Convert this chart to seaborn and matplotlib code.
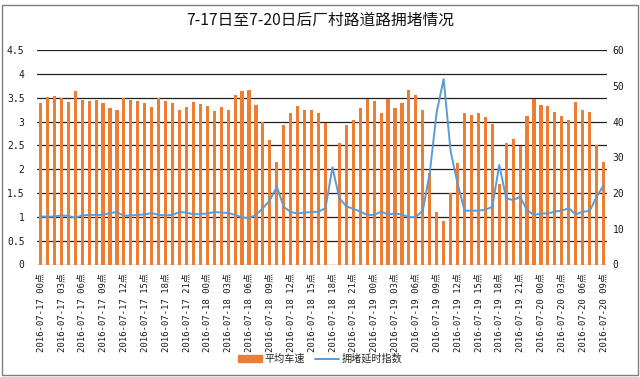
import numpy as np
import pandas as pd
import matplotlib
matplotlib.use("Agg")
import matplotlib.pyplot as plt
from matplotlib.patches import Rectangle, Patch
from matplotlib.lines import Line2D
import seaborn as sns

title = "7-17日至7-20日后厂村路道路拥堵情况"
speed_name = "平均车速"
index_name = "拥堵延时指数"

# hourly average speed (km/h, right axis), 2016-07-17 00点 .. 2016-07-20 09点
speed = [45.2, 46.8, 47.2, 46.7, 45.5, 48.5, 46.0, 45.7, 45.9, 45.2,
         43.9, 43.3, 46.7, 46.1, 45.6, 45.2, 44.0, 46.5, 45.6, 45.2,
         43.1, 44.1, 45.5, 44.9, 44.4, 42.8, 44.1, 43.1, 47.3, 48.4,
         48.7, 44.7, 39.9, 34.7, 28.7, 38.9, 42.4, 44.4, 43.3, 43.1,
         42.5, 39.7, np.nan, 34.0, 39.1, 40.5, 43.7, 46.4, 45.6, 42.5,
         46.4, 43.7, 45.2, 48.9, 47.5, 43.3, 25.6, 14.8, 12.1, 19.9,
         28.5, 42.3, 41.9, 42.4, 41.3, 39.2, 22.5, 34.0, 35.2, 33.2,
         41.5, 46.3, 44.7, 44.3, 42.7, 41.5, 40.3, 45.5, 43.3, 42.7,
         33.3, 28.8]

# hourly congestion delay index (left axis)
delay_index = [1.01, 1.00, 1.01, 1.03, 1.02, 0.98, 1.03, 1.04, 1.04, 1.04,
               1.08, 1.10, 1.02, 1.03, 1.04, 1.05, 1.08, 1.04, 1.03, 1.04,
               1.10, 1.09, 1.05, 1.06, 1.07, 1.10, 1.09, 1.08, 1.04, 0.99,
               0.97, 1.04, 1.18, 1.35, 1.63, 1.21, 1.10, 1.07, 1.09, 1.10,
               1.11, 1.18, 2.04, 1.39, 1.22, 1.17, 1.11, 1.04, 1.04, 1.11,
               1.05, 1.07, 1.05, 0.99, 1.00, 1.13, 1.92, 3.20, 3.89, 2.38,
               1.70, 1.13, 1.13, 1.13, 1.15, 1.21, 2.09, 1.39, 1.35, 1.42,
               1.14, 1.04, 1.07, 1.07, 1.11, 1.13, 1.18, 1.05, 1.11, 1.12,
               1.42, 1.66]

tick_labels = [
    "2016-07-17 00点", "2016-07-17 03点", "2016-07-17 06点", "2016-07-17 09点",
    "2016-07-17 12点", "2016-07-17 15点", "2016-07-17 18点", "2016-07-17 21点",
    "2016-07-18 00点", "2016-07-18 03点", "2016-07-18 06点", "2016-07-18 09点",
    "2016-07-18 12点", "2016-07-18 15点", "2016-07-18 18点", "2016-07-18 21点",
    "2016-07-19 00点", "2016-07-19 03点", "2016-07-19 06点", "2016-07-19 09点",
    "2016-07-19 12点", "2016-07-19 15点", "2016-07-19 18点", "2016-07-19 21点",
    "2016-07-20 00点", "2016-07-20 03点", "2016-07-20 06点", "2016-07-20 09点",
]

left_ticks = [0, 0.5, 1, 1.5, 2, 2.5, 3, 3.5, 4, 4.5]
right_ticks = [0, 10, 20, 30, 40, 50, 60]

sns.set_theme(style="white")
plt.rcParams['font.family'] = ['Noto Sans CJK SC', 'DejaVu Sans']
mono = ['DejaVu Sans Mono', 'Noto Sans CJK SC']

hours = np.arange(len(speed))
df = pd.DataFrame({"hour": hours, "speed": speed, "idx": delay_index})

fig = plt.figure(figsize=(6.4, 3.77), dpi=100)
ax = fig.add_axes([37/640, 1 - 264.5/377, (607 - 37)/640, (264.5 - 50)/377])

orange = "#ED7D31"
blue = "#5B9BD5"
txt = "#1a1a1a"

# gridlines follow the left (index) scale; bars use the right (speed) scale
scale = 60 / 4.5
for t in left_ticks:
    ax.axhline(t * scale, color="#202020", lw=0.9, zorder=0)

sns.barplot(data=df, x="hour", y="speed", color=orange, saturation=1,
            width=0.45, linewidth=0, ax=ax, zorder=2)
ax.set_ylim(0, 60)
ax.set_xlim(-0.5, len(speed) - 0.5)
ax.set_xticks(hours[::3])
ax.set_xticklabels(tick_labels, rotation=90, fontsize=6.5, color=txt, family=mono)
ax.tick_params(axis="x", length=0, pad=6)
ax.set_xlabel("")
ax.set_ylabel("")
for s in ax.spines.values():
    s.set_visible(False)

ax2 = ax.twinx()
sns.lineplot(data=df, x="hour", y="idx", color=blue, lw=1.4, ax=ax2)
ax2.set_ylim(0, 4.5)
ax2.set_ylabel("")
ax2.set_xlabel("")
for s in ax2.spines.values():
    s.set_visible(False)

# speed ticks on the right, index ticks on the left
ax.yaxis.tick_right()
ax.set_yticks(right_ticks)
ax.set_yticklabels([str(v) for v in right_ticks], fontsize=7, color=txt, family=mono)
ax.tick_params(axis="y", length=0, pad=4)
ax2.yaxis.tick_left()
ax2.set_yticks(left_ticks)
ax2.set_yticklabels([f"{v:g}" for v in left_ticks], fontsize=7, color=txt, family=mono)
ax2.tick_params(axis="y", length=0, pad=9)

fig.text(0.5, 0.945, title, ha="center", va="center", fontsize=11.3, color="#111111")

handles = [Patch(facecolor=orange, edgecolor=orange),
           Line2D([0], [0], color=blue, lw=1.4)]
fig.legend(handles, [speed_name, index_name], loc="center", bbox_to_anchor=(0.5, 0.048),
           ncol=2, frameon=False, fontsize=7.3, handlelength=2.4, handleheight=0.55,
           columnspacing=1.0, handletextpad=0.2)

fig.patches.append(Rectangle((0.003, 0.004), 0.994, 0.982, transform=fig.transFigure,
                             fill=False, edgecolor="#7f7f7f", lw=1.0))

fig.savefig("out.png", dpi=100)
